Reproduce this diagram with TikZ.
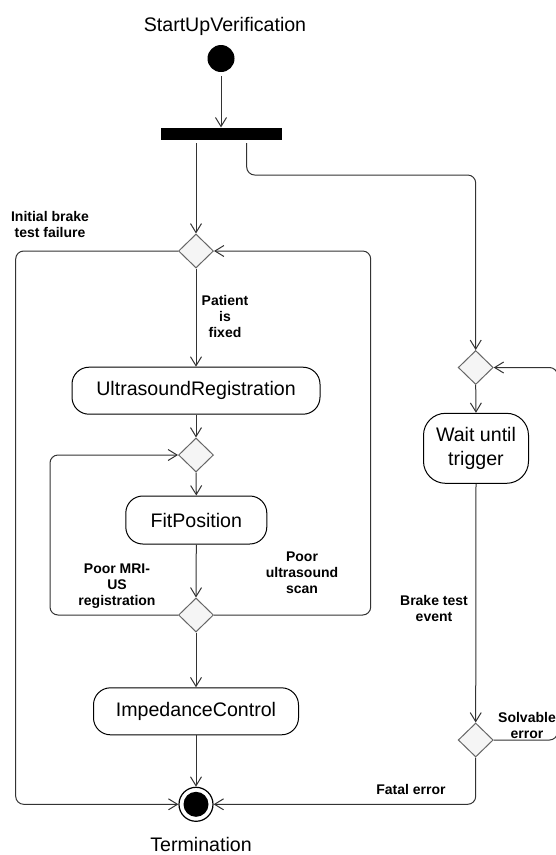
\documentclass[tikz,border=0pt]{standalone}
\usepackage{fontspec}
\setmainfont{Liberation Sans}
\usetikzlibrary{shapes.geometric,arrows.meta}

\begin{document}
\begin{tikzpicture}[x=1pt,y=-1pt,
  flow/.style={draw=black!80, line width=1pt, -{Straight Barb[length=9pt,width=11pt]}, rounded corners=8pt},
  activity/.style={draw=black, line width=1pt, rectangle, rounded corners=17pt,
    font=\fontsize{19.6}{23.5}\selectfont, inner sep=0pt},
  decision/.style={draw=black!60, fill=black!4, line width=1pt, diamond, aspect=1,
    minimum width=35pt, minimum height=34pt, inner sep=0pt},
  guard/.style={font=\fontsize{14}{16}\selectfont\bfseries, align=center, inner sep=0pt},
  caption/.style={font=\fontsize{19.6}{23.5}\selectfont, anchor=base, inner sep=0pt}
]
\useasboundingbox (0,0) rectangle (555,855);

% initial node and fork bar
\node[caption] (title) at (225,31.7) {StartUpVerification};
\node[circle, fill=black, minimum size=27pt, inner sep=0pt] (start) at (221,58.5) {};
\node[fill=black, minimum width=121.6pt, minimum height=12.3pt, inner sep=0pt] (bar) at (221.5,133.8) {};
\coordinate (forkL) at (196,143);
\coordinate (forkR) at (246.7,143);

% main branch
\node[decision] (d1) at (196,251) {};
\node[activity, minimum width=248pt, minimum height=47pt] (ur) at (196,390.7) {UltrasoundRegistration};
\node[decision] (d2) at (196,455) {};
\node[activity, minimum width=141pt, minimum height=48pt] (fp) at (196.3,520) {FitPosition};
\node[decision] (d3) at (196,615) {};
\node[activity, minimum width=205pt, minimum height=47pt] (ic) at (196,711.3) {ImpedanceControl};

% final node
\node[circle, draw=black, line width=1.2pt, minimum size=34pt, inner sep=0pt] (endc) at (196,804.3) {};
\fill (endc.center) circle (12.5pt);
\node[caption] (term) at (201,851.2) {Termination};

% brake monitoring branch
\node[decision] (d4) at (475.7,367.5) {};
\node[activity, rounded corners=22pt, minimum width=105pt, minimum height=70pt, align=center]
  (wt) at (476,448.3) {Wait until\\trigger};
\node[decision] (d5) at (475.7,740) {};

% loop rails
\coordinate (outerL) at (15.7,0);
\coordinate (outerR) at (370.7,0);
\coordinate (innerL) at (50,0);
\coordinate (farR) at (557.5,0);

% transitions
\draw[flow, shorten <=4pt] (start.south) -- (start.south |- bar.north);
\draw[flow] (forkL) -- (d1.north);
\draw[flow] (forkR) -- ++(0,32) -| (d4.north);
\draw[flow] (d1.south) -- (ur.north);
\draw[flow] (ur.south) -- (d2.north);
\draw[flow] (d2.south) -- (fp.north);
\draw[flow] (fp.south) -- (d3.north);
\draw[flow] (d3.south) -- (ic.north);
\draw[flow] (ic.south) -- (endc.north);
\draw[flow] (d3.west) -| (innerL |- d2.west) -- (d2.west);
\draw[flow] (d3.east) -| (outerR |- d1.east) -- (d1.east);
\draw[flow] (d1.west) -| (outerL |- endc.west) -- (endc.west);
\draw[flow] (d4.south) -- (wt.north);
\draw[flow] (wt.south) -- (d5.north);
\draw[flow] (d5.south) |- (endc.east);
\draw[flow] (d5.east) -| (farR |- d4.east) -- (d4.east);

% guard labels
\node[guard] (lInit) at (50,224) {Initial brake\\test failure};
\node[guard] (lFix) at (225,316.5) {Patient\\is\\fixed};
\node[guard] (lMri) at (117,586) {Poor MRI-\\US\\registration};
\node[guard] (lScan) at (302,573) {Poor\\ultrasound\\scan};
\node[guard] (lBrake) at (434,608) {Brake test\\event};
\node[guard] (lSolv) at (527,725) {Solvable\\error};
\node[guard] (lFatal) at (411,789) {Fatal error};
\end{tikzpicture}
\end{document}
